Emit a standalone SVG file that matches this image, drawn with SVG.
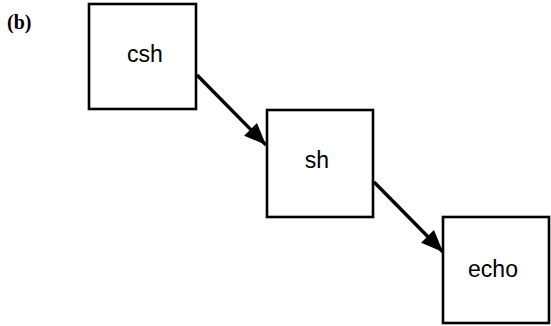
<svg xmlns="http://www.w3.org/2000/svg" width="551" height="326" viewBox="0 0 551 326">
<style>
.box{fill:#fff;stroke:#000;stroke-width:2.6}
.lbl{font-family:"Liberation Sans",Arial,sans-serif;font-size:23px;fill:#000;text-anchor:middle}
.edge{stroke:#000;stroke-width:3.4;fill:none;marker-end:url(#ah)}
</style>
<defs>
<marker id="ah" markerUnits="userSpaceOnUse" markerWidth="24" markerHeight="20" refX="22" refY="9" orient="auto" viewBox="0 0 24 18">
<path d="M0,0 L22,9 L0,18 Z" fill="#000"/>
</marker>
</defs>
<rect width="551" height="326" fill="#fff"/>
<text x="7" y="29" font-family="'Liberation Serif','Times New Roman',serif" font-weight="bold" font-size="20">(b)</text>
<g id="connectors">
<line class="edge" x1="197" y1="75" x2="266" y2="145"/>
<line class="edge" x1="374" y1="182" x2="443" y2="252"/>
</g>
<g id="csh">
<rect class="box" x="89" y="4" width="107" height="105"/>
<text class="lbl" x="145" y="62">csh</text>
</g>
<g id="sh">
<rect class="box" x="267" y="110" width="106" height="107"/>
<text class="lbl" x="317" y="168">sh</text>
</g>
<g id="echo">
<rect class="box" x="443" y="217" width="106" height="106"/>
<text class="lbl" x="493" y="277">echo</text>
</g>
</svg>
